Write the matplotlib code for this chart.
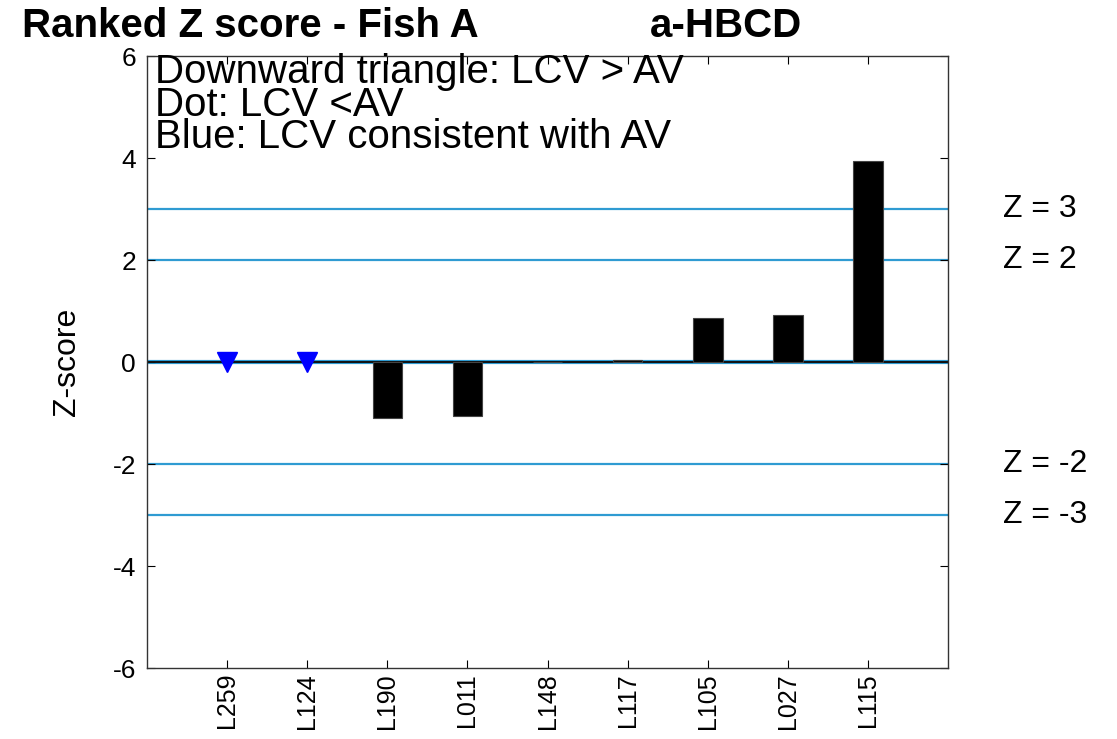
import matplotlib.pyplot as plt
import numpy as np

plt.rcParams['font.family'] = ['Liberation Sans', 'DejaVu Sans']
plt.rcParams['axes.unicode_minus'] = False

# ranked labs and their z-scores
labs = ['L259', 'L124', 'L190', 'L011', 'L148', 'L117', 'L105', 'L027', 'L115']
zscores = [0.0, 0.0, -1.10, -1.06, 0.0, 0.05, 0.86, 0.92, 3.94]
# labs whose LCV is consistent with AV are drawn as blue triangles
consistent = [True, True, False, False, False, False, False, False, False]
limits = [3, 2, -2, -3]
notes = ['Downward triangle: LCV > AV', 'Dot: LCV <AV', 'Blue: LCV consistent with AV']

fig = plt.figure(figsize=(11.17, 7.39), dpi=100)
ax = fig.add_axes([0.1316, 0.096, 0.7172, 0.828])

x = np.arange(1, len(labs) + 1)
for xi, z, blue in zip(x, zscores, consistent):
    if blue:
        ax.plot(xi, z, marker='v', color='blue', markersize=15, zorder=4)
    else:
        ax.bar(xi, z, width=0.37, color='black', edgecolor='#444444', linewidth=0.8, zorder=3)

for lim in limits:
    ax.axhline(lim, color='#2f9bd2', linewidth=1.6, zorder=1)
    ax.text(1.069, lim, f'Z = {lim}', transform=ax.get_yaxis_transform(),
            fontsize=23, va='center', ha='left')
ax.axhline(0, color='#2f9bd2', linewidth=3.0, zorder=1)
ax.axhline(0, color='#111111', linewidth=1.4, zorder=2)

ax.set_xlim(0, 10)
ax.set_ylim(-6, 6)
ax.set_xticks(x)
ax.set_xticklabels(labs, rotation=90, fontsize=18)
ax.set_yticks(np.arange(-6, 7, 2))
ax.tick_params(axis='y', labelsize=19, pad=8)
ax.tick_params(direction='in', top=True, right=True, length=6, width=0.8)
ax.set_ylabel('Z-score', fontsize=23, labelpad=22)
for s in ax.spines.values():
    s.set_linewidth(1.0)
    s.set_color('#333333')

# legend notes as one block (baseline = last line), lines packed tightly
ax.text(0.01, 0.850, '\n'.join(notes), transform=ax.transAxes, fontsize=29,
        va='baseline', ha='left', linespacing=0.81)

fig.text(0.02, 0.95, 'Ranked Z score - Fish A', fontsize=29, fontweight='bold', va='baseline')
fig.text(0.582, 0.95, 'a-HBCD', fontsize=29, fontweight='bold', va='baseline')

plt.savefig('out.png', dpi=100)
